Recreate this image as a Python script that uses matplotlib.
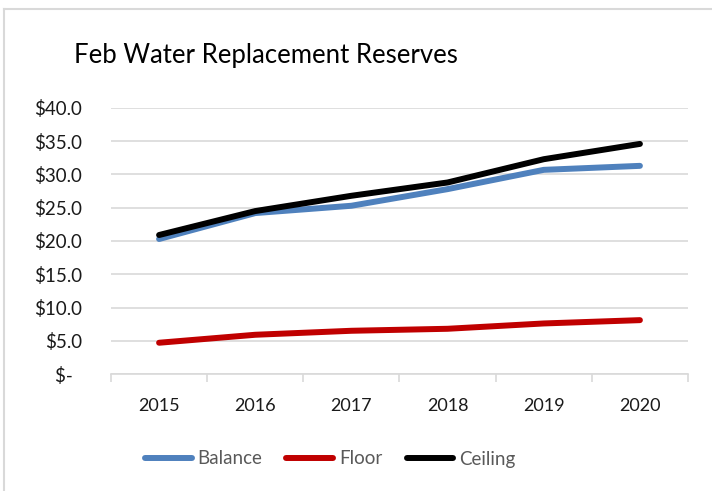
import matplotlib.pyplot as plt
from matplotlib.lines import Line2D
from matplotlib.ticker import FuncFormatter

years = ['2015', '2016', '2017', '2018', '2019', '2020']
balance = [20.3, 24.2, 25.3, 27.8, 30.7, 31.3]
floor = [4.7, 5.9, 6.5, 6.8, 7.6, 8.1]
ceiling = [20.9, 24.5, 26.8, 28.8, 32.3, 34.6]

plt.rcParams['font.family'] = ['Lato', 'DejaVu Sans']

fig = plt.figure(figsize=(7.12, 4.91), dpi=100)
ax = fig.add_axes([111 / 712, 1 - 374 / 491, (688 - 111) / 712, (374 - 108) / 491])

x = list(range(len(years)))
ax.plot(x, balance, color='#4F81BD', lw=4.3, label='Balance', solid_capstyle='round')
ax.plot(x, floor, color='#C00000', lw=4.3, label='Floor', solid_capstyle='round')
ax.plot(x, ceiling, color='black', lw=4.3, label='Ceiling', solid_capstyle='round')

ax.set_xlim(-0.5, 5.5)
ax.set_ylim(0, 40)
ax.set_yticks(range(0, 41, 5))
ax.yaxis.set_major_formatter(FuncFormatter(lambda v, p: '$-  ' if v == 0 else f'${v:.1f}'))
ax.set_xticks(x)
ax.set_xticklabels(years)
ax.set_xticks([i - 0.5 for i in range(len(years) + 1)], minor=True)

ax.grid(axis='y', color='#D9D9D9', lw=1.2)
ax.set_axisbelow(True)
for s in ['top', 'right', 'left']:
    ax.spines[s].set_visible(False)
ax.spines['bottom'].set_color('#D9D9D9')
ax.spines['bottom'].set_linewidth(1.2)

ax.tick_params(axis='y', length=0, pad=21, labelsize=13.5, labelcolor='#1a1a1a')
ax.tick_params(axis='x', which='major', length=0, pad=17, labelsize=13, labelcolor='#1a1a1a')
ax.tick_params(axis='x', which='minor', length=6, color='#D9D9D9', width=1.2)

fig.text(266 / 712, 1 - 56 / 491, 'Feb Water Replacement Reserves', ha='center', va='center',
         fontsize=18.5, color='black')

fig.legend(loc='center', bbox_to_anchor=(330 / 712, 1 - 459 / 491), ncol=3, frameon=False,
           fontsize=13.5, handlelength=2.5, handletextpad=0.3, columnspacing=1.3,
           labelcolor='#595959')

# chart frame: only the top and left edges show in the reference
fig.add_artist(Line2D([4 / 712, 4 / 712], [0, 1 - 9 / 491], transform=fig.transFigure,
                      color='#D9D9D9', lw=1.5))
fig.add_artist(Line2D([4 / 712, 1], [1 - 9 / 491, 1 - 9 / 491], transform=fig.transFigure,
                      color='#D9D9D9', lw=1.5))

fig.savefig('out.png', dpi=100)
